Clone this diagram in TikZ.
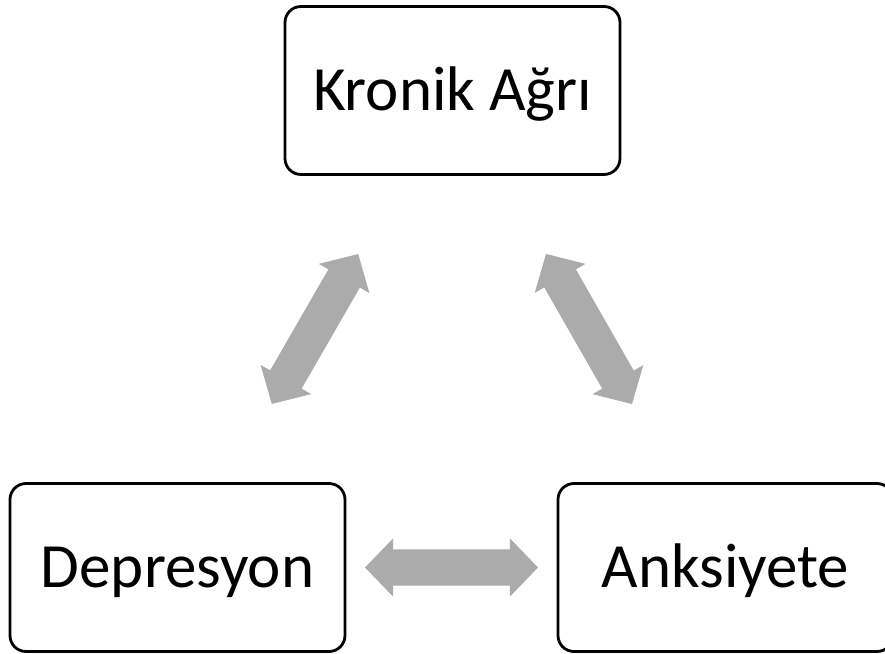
\documentclass[tikz,border=0pt]{standalone}
\usepackage{fontspec}
\setmainfont{Carlito}
\usetikzlibrary{shapes.arrows}
\definecolor{arrowgray}{RGB}{171,171,171}
\begin{document}
\begin{tikzpicture}[x=1pt,y=1pt,
  box/.style={draw=black, line width=2.8pt, rounded corners=16pt, minimum width=335pt, minimum height=168pt, inner sep=0pt, text height=40pt, text depth=0pt, font=\fontsize{63}{72}\selectfont},
  dbl/.style={double arrow, fill=arrowgray, draw=none, minimum height=173pt, inner xsep=0pt, inner ysep=18pt, double arrow head extend=11pt, double arrow tip angle=92, sloped, midway}]
\clip (0,0) rectangle (885,653);
\node[box] (pain) at (452.5,562.5) {Kronik Ağrı};
\node[box] (dep) at (177.5,85.5) {Depresyon};
\node[box] (anx) at (725.5,85.5) {Anksiyete};
\path (pain.center) -- (dep.center) node[dbl] {};
\path (pain.center) -- (anx.center) node[dbl] {};
\path (dep.center) -- (anx.center) node[dbl] {};
\end{tikzpicture}
\end{document}
